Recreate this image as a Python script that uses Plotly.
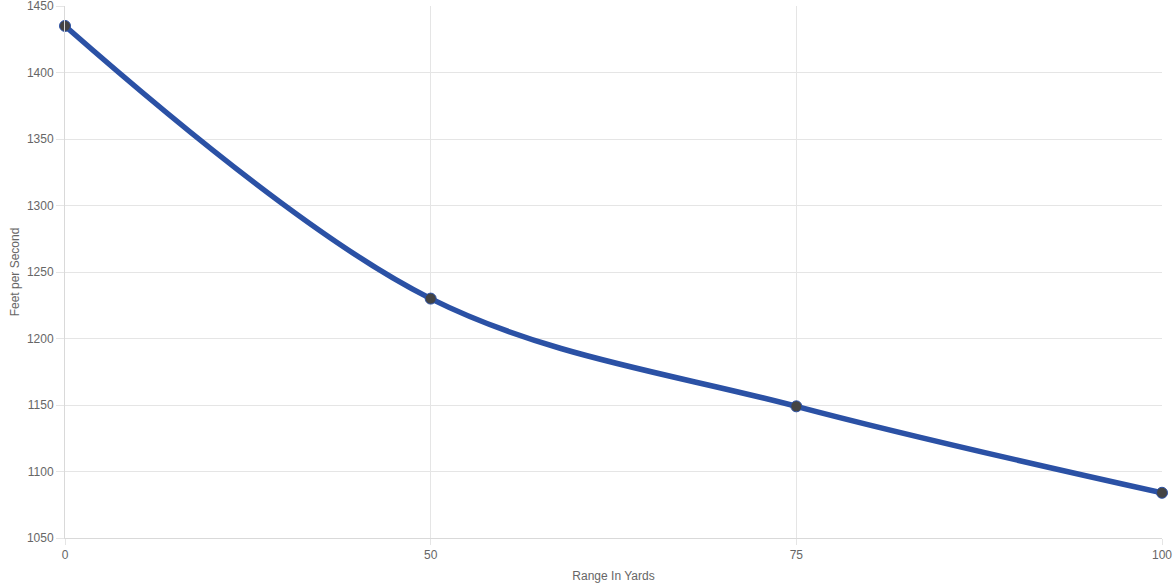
import plotly.graph_objects as go

ranges = ["0", "50", "75", "100"]
velocity = [1435, 1230, 1149, 1084]

fig = go.Figure()
fig.add_trace(go.Scatter(
    x=ranges, y=velocity, mode="lines+markers",
    line=dict(color="#2b51a5", width=5.5, shape="spline", smoothing=1.0),
    marker=dict(color="#444444", size=11, line=dict(color="#2b51a5", width=1)),
    showlegend=False,
    cliponaxis=False,
))

fig.update_layout(
    width=1176, height=588,
    margin=dict(l=65, r=14, t=6, b=50),
    paper_bgcolor="white", plot_bgcolor="white",
    font=dict(family="Arial, Liberation Sans, sans-serif", size=12, color="#666666"),
)
fig.update_xaxes(
    type="category", range=[0, 3], automargin=False,
    showgrid=True, gridcolor="#e5e5e5", gridwidth=1,
    ticks="outside", ticklen=6, tickcolor="#e5e5e5",
    showline=True, linecolor="#d9d9d9", linewidth=1,
    title=dict(text="Range In Yards", font=dict(size=12, color="#666666"), standoff=10),
    tickfont=dict(size=12, color="#666666"),
)
fig.update_yaxes(
    range=[1050, 1450], dtick=50,
    automargin=False, ticklabeloverflow="allow",
    showgrid=True, gridcolor="#e5e5e5", gridwidth=1,
    ticks="outside", ticklen=8, tickcolor="#e5e5e5",
    showline=True, linecolor="#d9d9d9", linewidth=1,
    zeroline=False,
    title=dict(text="Feet per Second", font=dict(size=12, color="#666666"), standoff=4),
    tickfont=dict(size=12, color="#666666"),
)

fig.write_html("out.html", config={"displayModeBar": False},
               post_script="document.body.style.margin='0';document.body.style.overflow='hidden';")
